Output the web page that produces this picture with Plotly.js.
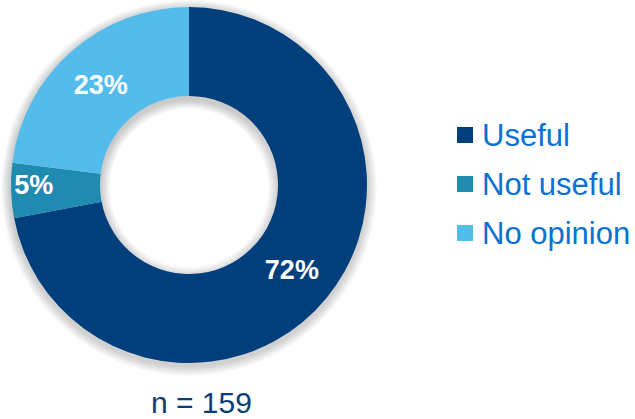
<!DOCTYPE html>
<html>
<head>
<meta charset="utf-8">
<script src="https://cdn.plot.ly/plotly-3.0.1.min.js"></script>
<style>
html,body{margin:0;padding:0;background:#fff;}
#chart{width:635px;height:419px;}
</style>
</head>
<body>
<div id="chart"></div>
<script>
const categories = ["Useful", "Not useful", "No opinion"];
const percents = [72, 5, 23];
const sampleSize = 159;
const sliceColors = ["#003F7B", "#1F8BB1", "#54BCEB"];

const W = 635, H = 419;
const FONT = "Arial, 'Liberation Sans', sans-serif";
const CX = 189, CY = 185, R_OUT = 178, R_IN = 89;

function domainFor(cx, cy, r) {
  return {x: [(cx - r)/W, (cx + r)/W], y: [(H - (cy + r))/H, (H - (cy - r))/H]};
}

// soft shadow: stacked faint rings slightly larger than the donut
const shadowTraces = [];
for (let k = 1; k <= 6; k++) {
  const ro = R_OUT + 1.6*k, ri = Math.max(R_IN - 1.6*k, 1);
  shadowTraces.push({
    type: "pie", values: percents, labels: categories, sort: false, direction: "clockwise",
    hole: ri/ro, domain: domainFor(CX, CY + 3, ro), textinfo: "none", showlegend: false,
    marker: {colors: ["#000000", "#000000", "#000000"], line: {width: 0}},
    opacity: 0.032, hoverinfo: "skip"
  });
}

const mainTrace = {
  type: "pie", values: percents, labels: categories, sort: false, direction: "clockwise",
  rotation: 0, hole: R_IN/R_OUT, domain: domainFor(CX, CY, R_OUT),
  texttemplate: "%{value}%", textposition: "inside", insidetextorientation: "horizontal",
  textfont: {family: FONT, size: 27, color: "#ffffff", weight: "bold"},
  marker: {colors: sliceColors, line: {width: 0}},
  showlegend: false
};

// manual legend (square + label) to match the reference spacing
const legendRowsY = [135, 184, 233];
const shapes = categories.map((c, i) => ({
  type: "rect", xref: "paper", yref: "paper",
  x0: 457/W, x1: 473/W,
  y0: (H - legendRowsY[i] - 8)/H, y1: (H - legendRowsY[i] + 8)/H,
  fillcolor: sliceColors[i], line: {width: 0}
}));
const legendLabels = categories.map((c, i) => ({
  text: c, xref: "paper", yref: "paper", x: 480/W, y: (H - legendRowsY[i])/H,
  xanchor: "left", yanchor: "middle", showarrow: false,
  font: {family: FONT, size: 31, color: "#0A72D3"}
}));

const layout = {
  width: W, height: H,
  margin: {l: 0, r: 0, t: 0, b: 0},
  paper_bgcolor: "#ffffff",
  showlegend: false,
  shapes: shapes,
  annotations: legendLabels.concat([{
    text: "n = " + sampleSize, x: 201.5/W, y: (H - 402)/H, xref: "paper", yref: "paper",
    xanchor: "center", yanchor: "middle", showarrow: false,
    font: {family: FONT, size: 30, color: "#0C3D78"}
  }])
};

Plotly.newPlot("chart", shadowTraces.concat([mainTrace]), layout, {displayModeBar: false, staticPlot: true});
</script>
</body>
</html>
